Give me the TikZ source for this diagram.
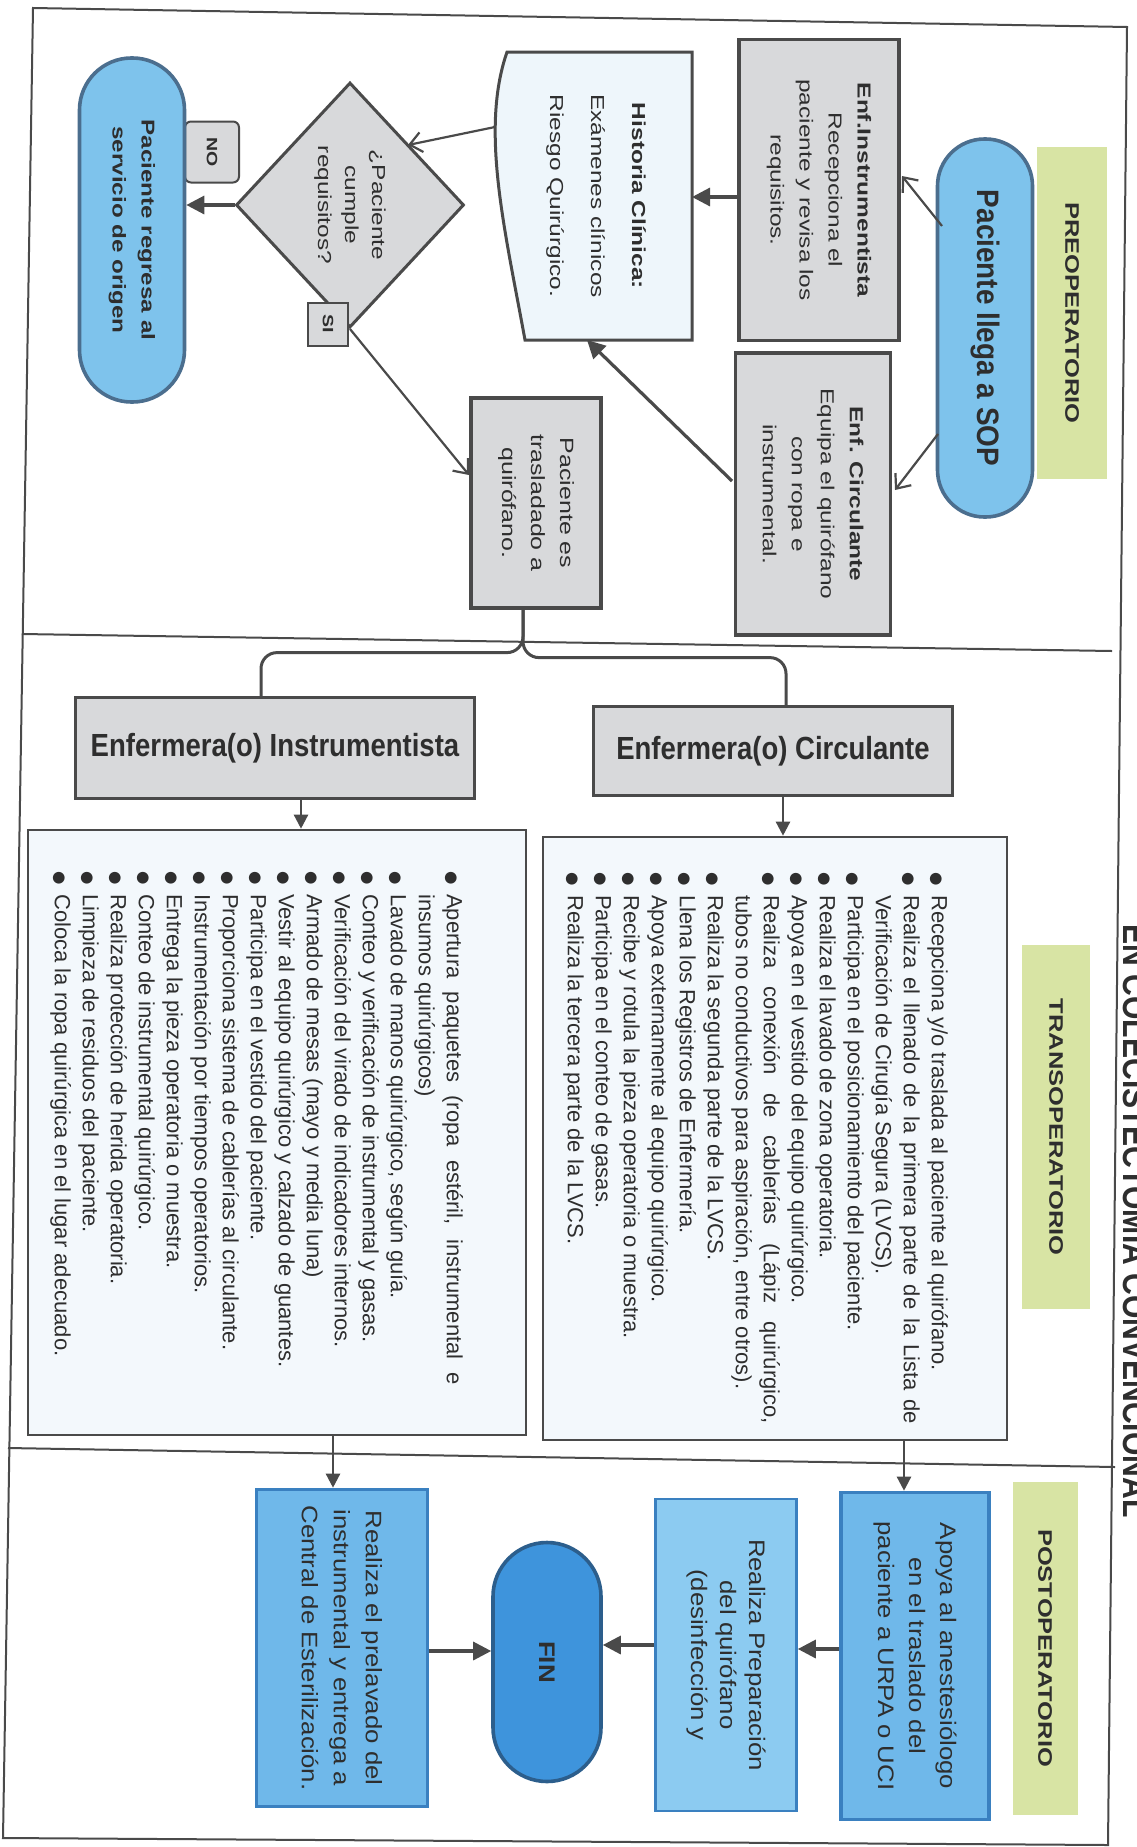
\documentclass[tikz,border=0pt]{standalone}
\usepackage{fontspec}
\setmainfont{Liberation Sans}
\newfontfamily\fA[FakeStretch=1.3]{Liberation Sans}
\newfontfamily\fB[FakeStretch=1.15]{Liberation Sans}
\newfontfamily\fC[FakeStretch=0.9]{Liberation Sans}
\newfontfamily\fN[FakeStretch=0.86]{Liberation Sans}
\newfontfamily\dejavu{DejaVu Sans}
\usetikzlibrary{shapes.geometric,arrows.meta,calc}
\definecolor{grayfill}{HTML}{D8D9DB}
\definecolor{lineg}{HTML}{4A4A4A}
\definecolor{ovalblue}{HTML}{7EC3EC}
\definecolor{ovalline}{HTML}{4B6E8E}
\definecolor{docfill}{HTML}{EEF6FB}
\definecolor{listfill}{HTML}{F3F8FC}
\definecolor{labgreen}{HTML}{D8E4A4}
\definecolor{postblue}{HTML}{6FB8EA}
\definecolor{postline}{HTML}{3A80C0}
\definecolor{prepblue}{HTML}{8CCBF1}
\definecolor{finblue}{HTML}{3E94DC}
\definecolor{finline}{HTML}{2C5E8C}
\definecolor{txt}{HTML}{2E2E2E}
\newcommand{\itm}[1]{\par\noindent\hangindent=1.05em\hangafter=1\makebox[1.05em][l]{{\dejavu\scalebox{0.7}{●}}}#1\par}
\begin{document}
\begin{tikzpicture}[x=0.5pt,y=-0.5pt,
 rot/.style={rotate=-90, inner sep=0pt, align=center, text=txt},
 gbox/.style={rot, draw=lineg, line width=1.6pt, fill=grayfill, font=\fA\fontsize{9.4}{14.5}\selectfont},
 oval/.style={rot, draw=ovalline, line width=1.8pt, fill=ovalblue},
 lab/.style={rot, fill=labgreen, font=\fA\bfseries\fontsize{9.8}{11}\selectfont},
 hdr/.style={draw=lineg, line width=1.6pt, fill=grayfill, inner sep=0pt, text=txt, font=\fN\bfseries\fontsize{16}{18}\selectfont},
 listbox/.style={rot, draw=lineg, line width=1.3pt, fill=listfill},
 listtxt/.style={rot, anchor=north west, align=justify, font=\fontsize{11}{14}\selectfont},
 postbox/.style={rot, draw=postline, line width=1.8pt, fill=postblue, font=\fB\fontsize{11.2}{15.5}\selectfont},
 tag/.style={rot, draw=lineg, line width=1pt, fill=grayfill, font=\fA\bfseries\fontsize{7.5}{8}\selectfont},
 arr/.style={draw=lineg, line width=1.6pt, -{Triangle[length=9pt,width=9pt]}},
 arrt/.style={draw=lineg, line width=1.2pt, -{Triangle[length=7pt,width=7pt]}},
 arro/.style={draw=lineg, line width=1.1pt, -{Straight Barb[length=6pt,width=10pt]}},
 conn/.style={draw=lineg, line width=1.5pt},
 framel/.style={draw=lineg, line width=1pt}]
\useasboundingbox (0,0) rectangle (1136,1847);
\fill[white] (0,0) rectangle (1136,1847);

% frame and section separators
\draw[framel] (33,8) -- (1127,27) -- (1108,1845) -- (3,1838) -- cycle;
\draw[framel] (22,634) -- (1112,651);
\draw[framel] (8,1448) -- (1115,1467);

% title (cut by page edge)
\begin{scope}
\clip (0,0) rectangle (1136,1847);
\node[rot, anchor=base east, font=\fN\bfseries\fontsize{17.5}{18}\selectfont] (title) at (1123,1518) {EN COLECISTECTOMÍA CONVENCIONAL};
\end{scope}

% ---------------- PREOPERATORIO
\node[lab, minimum width=166pt, minimum height=35pt] (lpre) at (1072,313) {PREOPERATORIO};
\node[oval, minimum width=189pt, minimum height=47.5pt, rounded corners=23.5pt, font=\fC\bfseries\fontsize{15.5}{17}\selectfont] (sop) at (985,328) {Paciente llega a SOP};
\node[gbox, minimum width=150.5pt, minimum height=80pt] (einstr) at (819,190) {{\bfseries Enf.Instrumentista}\\Recepciona el\\paciente y revisa los\\requisitos.};
\node[gbox, minimum width=141pt, minimum height=77.5pt] (ecirc) at (813,494) {{\bfseries Enf. Circulante}\\Equipa el quirófano\\con ropa e\\instrumental.};
\filldraw[fill=docfill, draw=lineg, line width=1.5pt] (507,52) -- (692,52) -- (692,340) -- (525,340) .. controls (505,230) and (480,130) .. (507,52) -- cycle;
\node[rot, minimum width=144pt, minimum height=98pt, font=\fA\fontsize{9.4}{20.5}\selectfont] (hist) at (596,196) {{\bfseries Historia Clínica:}\\Exámenes clínicos\\Riesgo Quirúrgico.};
\node[rot, shape=diamond, draw=lineg, line width=1.5pt, fill=grayfill, minimum width=122.5pt, minimum height=114pt, font=\fA\fontsize{9.4}{13.5}\selectfont] (diam) at (350,205) {¿Paciente\\cumple\\requisitos?};
\node[tag, rounded corners=3pt, minimum width=30.5pt, minimum height=27pt] (no) at (212,152) {NO};
\node[tag, minimum width=21.5pt, minimum height=20pt] (si) at (328,324) {SI};
\node[oval, minimum width=172pt, minimum height=52.5pt, rounded corners=26pt, font=\fA\bfseries\fontsize{9.3}{14.5}\selectfont] (reg) at (132,230) {Paciente regresa al\\servicio de origen};
\node[gbox, minimum width=105pt, minimum height=65pt, font=\fA\fontsize{9.6}{14.5}\selectfont] (trasl) at (536,503) {Paciente es\\trasladado a\\quirófano.};

\draw[arro] ($(sop)+(-43,-102)$) -- ($(einstr)+(83,-14)$);
\draw[arro] ($(sop)+(-47,106)$) -- ($(ecirc)+(82,-4)$);
\draw[arr] ($(einstr)+(-80,7)$) -- ($(hist)+(96,1)$);
\draw[arr] ($(ecirc)+(-81,-13)$) -- ($(hist)+(-9,144)$);
\draw[arro] ($(hist)+(-101,-69)$) -- ($(diam)+(58,-60)$);
\draw[arr] (diam.south) -- (diam.south -| reg.north);
\draw[arro] (diam.east) -- ($(trasl)+(-67,-28)$);

% ---------------- TRANSOPERATORIO
\node[lab, minimum width=182pt, minimum height=34pt] (ltrans) at (1056,1127) {TRANSOPERATORIO};
\node[hdr, minimum width=199.5pt, minimum height=50.5pt] (enfi) at (275,748) {Enfermera(o) Instrumentista};
\node[hdr, minimum width=179.5pt, minimum height=44.5pt] (enfc) at (773,751) {Enfermera(o) Circulante};
\draw[conn, rounded corners=8pt] ($(trasl.east)+(-13,0)$) -- ++(0,43) -| ($(enfi.north)+(-14,0)$);
\draw[conn, rounded corners=8pt] ($(trasl.east)+(-13,0)$) -- ++(0,48) -| ($(enfc.north)+(13,0)$);

\node[listbox, minimum width=301.5pt, minimum height=232pt] (clist) at (775,1138.5) {};
\node[listbox, minimum width=302.5pt, minimum height=249pt] (ilist) at (277,1132.5) {};

\coordinate (ai) at ($(enfi.south)+(26,0)$);
\coordinate (ac) at ($(enfc.south)+(10,0)$);
\draw[arrt] (ai) -- (ai |- ilist.west);
\draw[arrt] (ac) -- (ac |- clist.west);

\node[listtxt, text width=276pt] (ctext) at ($(clist.north west)+(-48,36)$) {%
\itm{Recepciona y/o traslada al paciente al quirófano.}%
\itm{Realiza el llenado de la primera parte de la Lista de\linebreak Verificación de Cirugía Segura (LVCS).}%
\itm{Participa en el posicionamiento del paciente.}%
\itm{Realiza el lavado de zona operatoria.}%
\itm{Apoya en el vestido del equipo quirúrgico.}%
\itm{Realiza conexión de cablerías (Lápiz quirúrgico,\linebreak tubos no conductivos para aspiración, entre otros).}%
\itm{Realiza la segunda parte de la LVCS.}%
\itm{Llena los Registros de Enfermería.}%
\itm{Apoya externamente al equipo quirúrgico.}%
\itm{Recibe y rotula la pieza operatoria o muestra.}%
\itm{Participa en el conteo de gasas.}%
\itm{Realiza la tercera parte de la LVCS.}};

\node[listtxt, text width=257pt] (itext) at ($(ilist.north west)+(-52,42)$) {%
\itm{Apertura paquetes (ropa estéril, instrumental e\linebreak insumos quirúrgicos)}%
\itm{Lavado de manos quirúrgico, según guía.}%
\itm{Conteo y verificación de instrumental y gasas.}%
\itm{Verificación del virado de indicadores internos.}%
\itm{Armado de mesas (mayo y media luna)}%
\itm{Vestir al equipo quirúrgico y calzado de guantes.}%
\itm{Participa en el vestido del paciente.}%
\itm{Proporciona sistema de cablerías al circulante.}%
\itm{Instrumentación por tiempos operatorios.}%
\itm{Entrega la pieza operatoria o muestra.}%
\itm{Conteo de instrumental quirúrgico.}%
\itm{Realiza protección de herida operatoria.}%
\itm{Limpieza de residuos del paciente.}%
\itm{Coloca la ropa quirúrgica en el lugar adecuado.}};

% ---------------- POSTOPERATORIO
\node[lab, minimum width=166.5pt, minimum height=32.5pt] (lpost) at (1045,1648) {POSTOPERATORIO};
\node[postbox, minimum width=163.5pt, minimum height=74pt] (apoya) at (915,1656) {Apoya al anestesiólogo\\en el traslado del\\paciente a URPA o UCI};
\node[postbox, fill=prepblue, line width=1.3pt, minimum width=156pt, minimum height=70.5pt, font=\fB\fontsize{11.2}{14.5}\selectfont] (prep) at (726,1655) {Realiza Preparación\\del quirófano\\(desinfección y};
\node[oval, fill=finblue, draw=finline, minimum width=119.5pt, minimum height=54pt, rounded corners=27pt, font=\fB\bfseries\fontsize{11.3}{13}\selectfont] (fin) at (547,1662) {FIN};
\node[postbox, minimum width=158.5pt, minimum height=85.5pt, font=\fB\fontsize{11.2}{16}\selectfont] (prel) at (342,1648) {Realiza el prelavado del\\instrumental y entrega a\\Central de Esterilización.};

\coordinate (ak) at ($(clist.east)+(129,0)$);
\coordinate (al) at ($(ilist.east)+(56,0)$);
\draw[arrt] (ak) -- (ak |- apoya.west);
\draw[arrt] (al) -- (al |- prel.west);
\coordinate (am) at ($(apoya.south)+(0,-7)$);
\coordinate (an) at ($(prep.south)+(0,-10)$);
\coordinate (ao) at ($(prel.north)+(0,3)$);
\draw[arr] (am) -- (am -| prep.north);
\draw[arr] (an) -- (an -| fin.north);
\draw[arr] (ao) -- (ao -| fin.south);
\end{tikzpicture}
\end{document}
